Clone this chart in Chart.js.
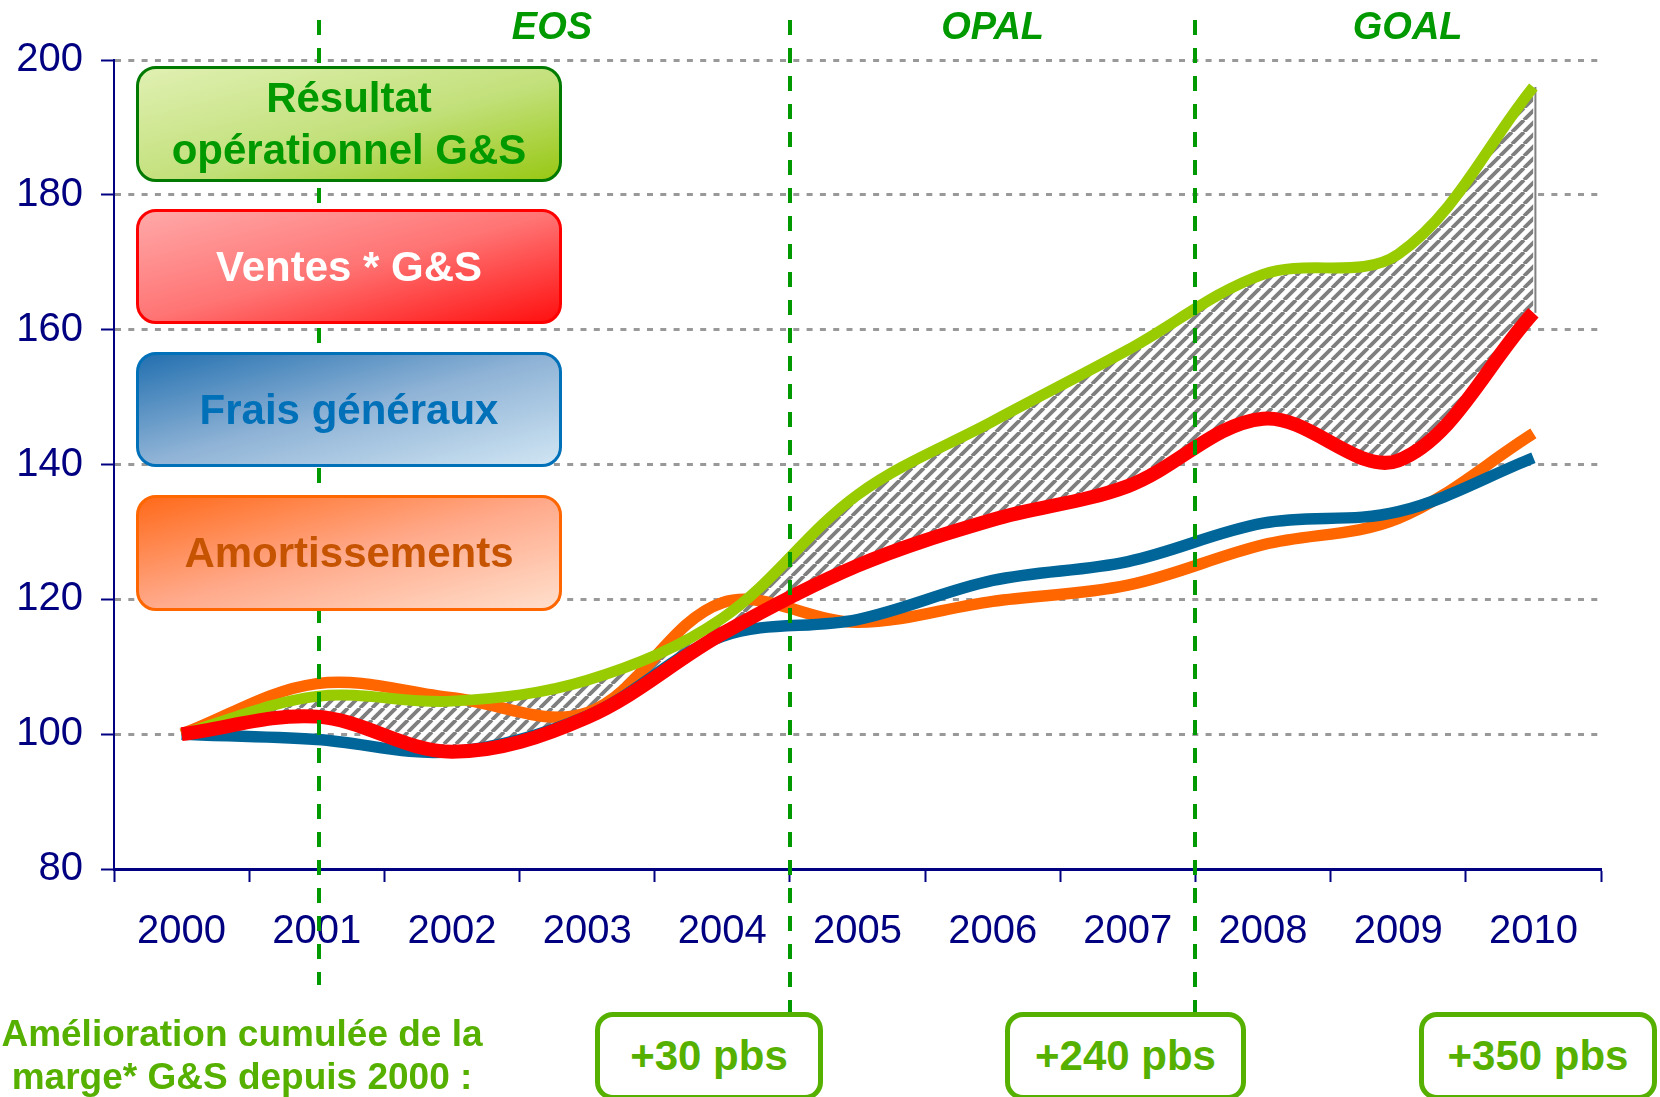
<!DOCTYPE html>
<html lang="fr">
<head>
<meta charset="utf-8">
<title>Marge G&amp;S 2000-2010</title>
<script src="https://cdn.jsdelivr.net/npm/chart.js@4.4.1/dist/chart.umd.min.js"></script>
<style>
  html, body { margin: 0; padding: 0; background: #fff; }
  #page { position: relative; width: 1660px; height: 1097px; overflow: hidden;
          font-family: Arial, "Liberation Sans", sans-serif; }
  #graphique { position: absolute; left: 0; top: 0; }

  /* cartouches de légende à gauche */
  .cle { position: absolute; left: 136px; width: 426px; box-sizing: border-box;
         border: 3px solid; border-radius: 20px; display: flex; align-items: center;
         justify-content: center; text-align: center; font-weight: bold;
         font-size: 42px; line-height: 52px; }
  #cle-resultat { top: 66px; height: 116px; color: #009900; border-color: #007A00;
    background: linear-gradient(to bottom right, #e0f0b2 0%, #c2e07a 55%, #98c814 100%); }
  #cle-ventes { top: 209px; height: 115px; color: #fff; border-color: #ff0000;
    background: linear-gradient(to bottom right, #ffa8a8 0%, #ff7474 50%, #ff1010 100%); }
  #cle-frais { top: 352px; height: 115px; color: #0070b8; border-color: #0070b8;
    background: linear-gradient(to bottom right, #2370b0 0%, #8fb3d6 50%, #d0e5f3 100%); }
  #cle-amort { top: 495px; height: 116px; color: #c55300; border-color: #ff6600;
    background: linear-gradient(to bottom right, #ff6a1a 0%, #ffa98a 50%, #ffdfcc 100%); }

  /* gains de marge en bas */
  #amelioration { position: absolute; left: 0; top: 1012px; width: 484px; text-align: center;
    color: #56b000; font-weight: bold; font-size: 37px; line-height: 43px; }
  .pbs { position: absolute; top: 1012px; height: 88px; box-sizing: border-box;
    border: 5px solid #56b000; border-radius: 18px; display: flex; align-items: center;
    justify-content: center; color: #56b000; font-weight: bold; font-size: 42px; background: #fff; }
</style>
</head>
<body>
<div id="page">
  <canvas id="graphique" width="1660" height="1097"></canvas>

  <div class="cle" id="cle-resultat">Résultat<br>opérationnel G&amp;S</div>
  <div class="cle" id="cle-ventes">Ventes * G&amp;S</div>
  <div class="cle" id="cle-frais">Frais généraux</div>
  <div class="cle" id="cle-amort">Amortissements</div>

  <div id="amelioration">Amélioration cumulée de la<br>marge* G&amp;S depuis 2000 :</div>
  <div class="pbs" style="left:595px;width:228px">+30 pbs</div>
  <div class="pbs" style="left:1005px;width:241px">+240 pbs</div>
  <div class="pbs" style="left:1419px;width:238px">+350 pbs</div>
</div>

<script>
// Indices base 100 en 2000
const annees = ["2000", "2001", "2002", "2003", "2004", "2005", "2006", "2007", "2008", "2009", "2010"];
const resultat = [100, 105.6, 104.9, 108, 117.2, 135.5, 146.4, 157, 168.2, 171.2, 196];
const ventes = [100, 102.6, 97.4, 102.5, 114.9, 125, 131.8, 136.8, 146.8, 140.6, 162.5];
const frais = [100, 99.2, 97.4, 102.7, 114.5, 117, 122.8, 125.6, 131.3, 133, 141];
const amort = [100, 107.5, 105.4, 103.2, 119.5, 116.6, 119.7, 122.1, 128.1, 132, 144.6];

// Plans de progrès : nom, début (position sur l'axe des années), centre du titre
const plans = ["EOS", "OPAL", "GOAL"];
const debutsPlans = [1.02, 4.5, 7.5];
const centresPlans = [2.74, 6.0, 9.07];

const bleuNuit = "#000080";
const police = 'Arial, "Liberation Sans", sans-serif';

// Hachures grises entre résultat et ventes
function motifHachure() {
  const t = 12;
  const c = document.createElement("canvas");
  c.width = t;
  c.height = t;
  const g = c.getContext("2d");
  g.fillStyle = "#fff";
  g.fillRect(0, 0, t, t);
  g.strokeStyle = "#7f7f7f";
  g.lineWidth = 3.8;
  g.beginPath();
  for (const o of [-t, 0, t]) {
    g.moveTo(o, t);
    g.lineTo(o + t, 0);
  }
  g.stroke();
  return g.createPattern(c, "repeat");
}

const reperes = {
  id: "reperes",
  // bord droit de la zone hachurée
  beforeDatasetsDraw(chart) {
    const { ctx, scales: { x, y } } = chart;
    const n = annees.length - 1;
    const px = x.getPixelForValue(n) + 2;
    ctx.save();
    ctx.strokeStyle = "#808080";
    ctx.lineWidth = 2;
    ctx.beginPath();
    ctx.moveTo(px, y.getPixelForValue(resultat[n]));
    ctx.lineTo(px, y.getPixelForValue(ventes[n]));
    ctx.stroke();
    ctx.restore();
  },
  // traits verticaux et titres des plans
  afterDraw(chart) {
    const { ctx, scales: { x } } = chart;
    ctx.save();
    ctx.strokeStyle = "#009900";
    ctx.lineWidth = 4;
    ctx.setLineDash([15, 13]);
    debutsPlans.forEach((v, i) => {
      const px = Math.round(x.getPixelForValue(v));
      ctx.beginPath();
      ctx.moveTo(px, 20);
      ctx.lineTo(px, i === 0 ? 985 : 1012);
      ctx.stroke();
    });
    ctx.setLineDash([]);
    ctx.fillStyle = "#009900";
    ctx.font = "italic bold 38px " + police;
    ctx.textAlign = "center";
    ctx.textBaseline = "alphabetic";
    plans.forEach((nom, i) => {
      ctx.fillText(nom, x.getPixelForValue(centresPlans[i]), 39);
    });
    ctx.restore();
  },
};

const ctx = document.getElementById("graphique").getContext("2d");
new Chart(ctx, {
  type: "line",
  data: {
    labels: annees,
    datasets: [
      {
        label: "Résultat opérationnel G&S",
        data: resultat,
        borderColor: "#99cc00",
        borderWidth: 11,
        backgroundColor: motifHachure(),
        fill: 1,
        order: 1,
      },
      {
        label: "Ventes * G&S",
        data: ventes,
        borderColor: "#ff0000",
        borderWidth: 14,
        fill: false,
        order: 0,
      },
      {
        label: "Frais généraux",
        data: frais,
        borderColor: "#006699",
        borderWidth: 11.5,
        fill: false,
        order: 2,
      },
      {
        label: "Amortissements",
        data: amort,
        borderColor: "#ff6600",
        borderWidth: 11.5,
        fill: false,
        order: 3,
      },
    ],
  },
  options: {
    responsive: false,
    animation: false,
    events: [],
    layout: { padding: { top: 60, right: 59, bottom: 0, left: 0 } },
    elements: {
      line: { tension: 0.35, borderCapStyle: "butt", borderJoinStyle: "round" },
      point: { radius: 0 },
    },
    plugins: {
      legend: { display: false },
      tooltip: { enabled: false },
      filler: { drawTime: "beforeDatasetsDraw" },
    },
    scales: {
      x: {
        offset: true,
        grid: {
          offset: true,
          drawOnChartArea: false,
          color: bleuNuit,
          tickColor: bleuNuit,
          tickWidth: 2,
          tickLength: 13,
        },
        border: { color: bleuNuit, width: 3 },
        ticks: {
          color: bleuNuit,
          font: { size: 40, family: police },
          padding: 26,
          maxRotation: 0,
          autoSkip: false,
        },
        afterFit: (s) => {
          s.height = 228;
        },
      },
      y: {
        min: 80,
        max: 200,
        grid: {
          color: (c) => (c.tick && c.tick.value === 80 ? "rgba(0,0,0,0)" : "#999999"),
          lineWidth: 3,
          tickColor: bleuNuit,
          tickWidth: 2,
          tickLength: 13,
        },
        border: { color: bleuNuit, width: 2, dash: [6, 7.3] },
        ticks: {
          stepSize: 20,
          color: bleuNuit,
          font: { size: 40, family: police },
          padding: 18,
        },
        afterFit: (s) => {
          s.width = 114;
        },
      },
    },
  },
  plugins: [reperes],
});
</script>
</body>
</html>
